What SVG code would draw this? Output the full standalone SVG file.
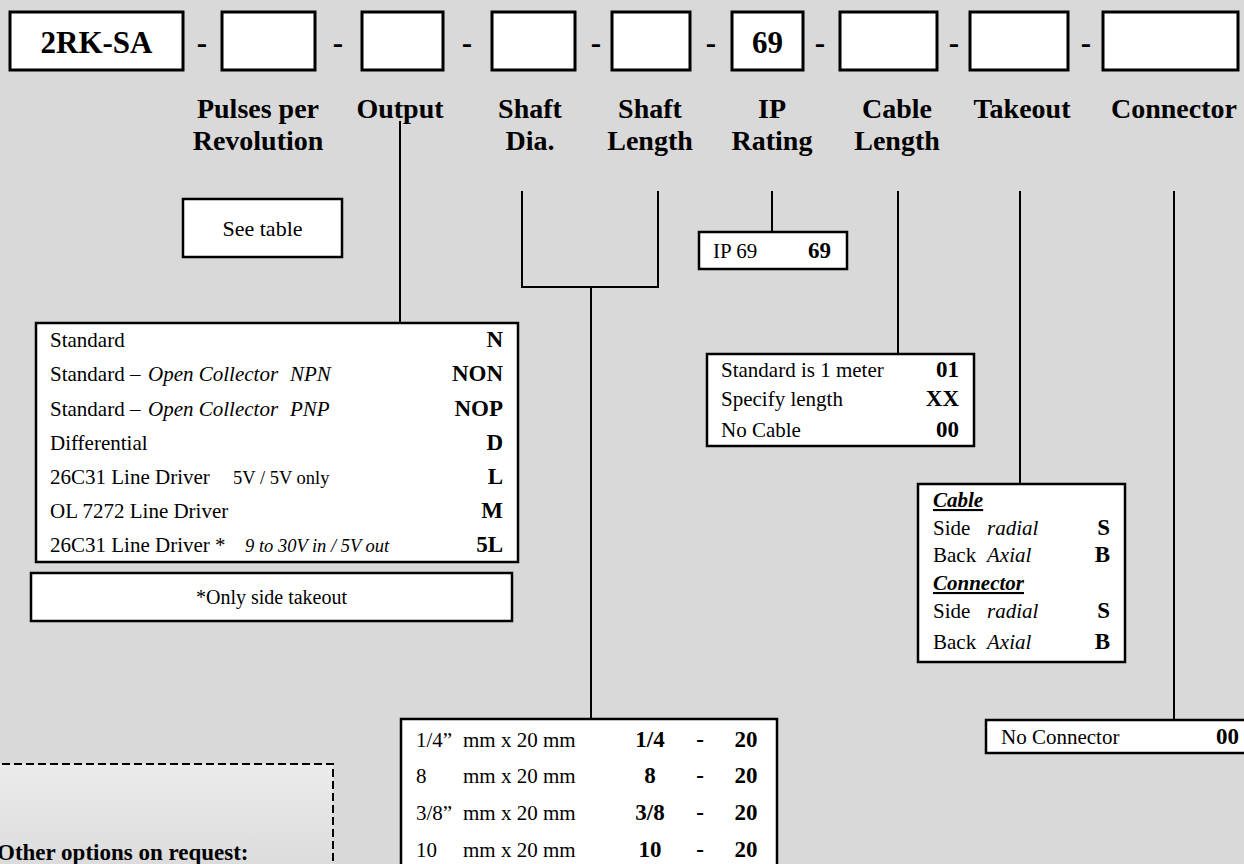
<svg xmlns="http://www.w3.org/2000/svg" width="1244" height="864" viewBox="0 0 1244 864">
<defs>
<linearGradient id="dashFill" x1="0" y1="0" x2="0" y2="1">
<stop offset="0" stop-color="#ececec"/>
<stop offset="1" stop-color="#d9d9d9"/>
</linearGradient>
</defs>
<style>
text{font-family:"Liberation Serif","Times New Roman",serif;fill:#000}
.top{fill:#fff;stroke:#000;stroke-width:3}
.tbl{fill:#fff;stroke:#000;stroke-width:2.5}
.lbl{font-size:28px;font-weight:bold;text-anchor:middle}
.big{font-size:31px;font-weight:bold;text-anchor:middle}
.t{font-size:21px}
.b{font-size:23px;font-weight:bold}
.r{text-anchor:end}
.m{text-anchor:middle}
.i{font-style:italic}
.sm{font-size:18.5px}
.con{fill:none;stroke:#000;stroke-width:2}
</style>
<rect x="0" y="0" width="1244" height="864" fill="#d9d9d9"/>

<g id="code-row">
<rect class="top" x="10" y="12" width="173" height="58"/>
<text class="big" x="96.5" y="53">2RK-SA</text>
<rect class="top" x="222" y="12" width="93" height="58"/>
<rect class="top" x="362" y="12" width="81" height="58"/>
<rect class="top" x="492" y="12" width="83" height="58"/>
<rect class="top" x="612" y="12" width="78" height="58"/>
<rect class="top" x="732" y="12" width="71" height="58"/>
<text class="big" x="767.5" y="53">69</text>
<rect class="top" x="840" y="12" width="97" height="58"/>
<rect class="top" x="970" y="12" width="98" height="58"/>
<rect class="top" x="1103" y="12" width="135" height="58"/>
<text class="big" x="202" y="53">-</text>
<text class="big" x="338" y="53">-</text>
<text class="big" x="467" y="53">-</text>
<text class="big" x="596" y="53">-</text>
<text class="big" x="711" y="53">-</text>
<text class="big" x="820" y="53">-</text>
<text class="big" x="954" y="53">-</text>
<text class="big" x="1086" y="53">-</text>
</g>

<g id="labels">
<text class="lbl" x="258" y="118">Pulses per</text>
<text class="lbl" x="258" y="150">Revolution</text>
<text class="lbl" x="400" y="118">Output</text>
<text class="lbl" x="530" y="118">Shaft</text>
<text class="lbl" x="530" y="150">Dia.</text>
<text class="lbl" x="650" y="118">Shaft</text>
<text class="lbl" x="650" y="150">Length</text>
<text class="lbl" x="772" y="118">IP</text>
<text class="lbl" x="772" y="150">Rating</text>
<text class="lbl" x="897" y="118">Cable</text>
<text class="lbl" x="897" y="150">Length</text>
<text class="lbl" x="1022" y="118">Takeout</text>
<text class="lbl" x="1174" y="118">Connector</text>
</g>

<g id="connectors">
<path class="con" d="M400 121V323"/>
<path class="con" d="M522 191V287H658V191M591 287V719"/>
<path class="con" d="M772 191V232"/>
<path class="con" d="M898 191V354"/>
<path class="con" d="M1020 191V484"/>
<path class="con" d="M1174 191V720"/>
</g>

<g id="see-table">
<rect class="tbl" x="183" y="199" width="159" height="58"/>
<text class="t m" x="262.5" y="236" style="font-size:22px">See table</text>
</g>

<g id="output-table">
<rect class="tbl" x="36" y="323" width="482" height="239"/>
<text class="t" x="50" y="347">Standard</text>
<text class="b r" x="503" y="347">N</text>
<text class="t" x="50" y="381">Standard – <tspan class="i" x="148">Open Collector</tspan><tspan class="i" x="290">NPN</tspan></text>
<text class="b r" x="503" y="381">NON</text>
<text class="t" x="50" y="416">Standard – <tspan class="i" x="148">Open Collector</tspan><tspan class="i" x="290">PNP</tspan></text>
<text class="b r" x="503" y="416">NOP</text>
<text class="t" x="50" y="450">Differential</text>
<text class="b r" x="503" y="450">D</text>
<text class="t" x="50" y="484">26C31 Line Driver<tspan class="sm" x="233">5V / 5V only</tspan></text>
<text class="b r" x="503" y="484">L</text>
<text class="t" x="50" y="518">OL 7272 Line Driver</text>
<text class="b r" x="503" y="518">M</text>
<text class="t" x="50" y="552">26C31 Line Driver *<tspan class="sm i" x="245">9 to 30V in / 5V out</tspan></text>
<text class="b r" x="503" y="552">5L</text>
</g>

<g id="side-note">
<rect class="tbl" x="31" y="573" width="481" height="48"/>
<text class="t m" x="271.5" y="604" style="font-size:20px">*Only side takeout</text>
</g>

<g id="ip-table">
<rect class="tbl" x="699" y="232" width="148" height="37"/>
<text class="t" x="713" y="258">IP 69</text>
<text class="b r" x="831" y="258">69</text>
</g>

<g id="cable-table">
<rect class="tbl" x="707" y="354" width="267" height="92"/>
<text class="t" x="721" y="377">Standard is 1 meter</text>
<text class="b r" x="959" y="377">01</text>
<text class="t" x="721" y="406">Specify length</text>
<text class="b r" x="959" y="406">XX</text>
<text class="t" x="721" y="437">No Cable</text>
<text class="b r" x="959" y="437">00</text>
</g>

<g id="takeout-table">
<rect class="tbl" x="918" y="484" width="207" height="178"/>
<text class="t i" x="933" y="507" font-weight="bold" text-decoration="underline">Cable</text>
<text class="t" x="933" y="535">Side<tspan class="i" x="987">radial</tspan></text>
<text class="b r" x="1110" y="535">S</text>
<text class="t" x="933" y="562">Back<tspan class="i" x="987">Axial</tspan></text>
<text class="b r" x="1110" y="562">B</text>
<text class="t i" x="933" y="590" font-weight="bold" text-decoration="underline">Connector</text>
<text class="t" x="933" y="618">Side<tspan class="i" x="987">radial</tspan></text>
<text class="b r" x="1110" y="618">S</text>
<text class="t" x="933" y="649">Back<tspan class="i" x="987">Axial</tspan></text>
<text class="b r" x="1110" y="649">B</text>
</g>

<g id="shaft-table">
<rect class="tbl" x="401" y="719" width="376" height="160"/>
<text class="t" x="416" y="747">1/4”</text>
<text class="t" x="463" y="747">mm x 20 mm</text>
<text class="b m" x="650" y="747">1/4</text>
<text class="b m" x="700" y="747">-</text>
<text class="b m" x="746" y="747">20</text>
<text class="t" x="416" y="783">8</text>
<text class="t" x="463" y="783">mm x 20 mm</text>
<text class="b m" x="650" y="783">8</text>
<text class="b m" x="700" y="783">-</text>
<text class="b m" x="746" y="783">20</text>
<text class="t" x="416" y="820">3/8”</text>
<text class="t" x="463" y="820">mm x 20 mm</text>
<text class="b m" x="650" y="820">3/8</text>
<text class="b m" x="700" y="820">-</text>
<text class="b m" x="746" y="820">20</text>
<text class="t" x="416" y="857">10</text>
<text class="t" x="463" y="857">mm x 20 mm</text>
<text class="b m" x="650" y="857">10</text>
<text class="b m" x="700" y="857">-</text>
<text class="b m" x="746" y="857">20</text>
</g>

<g id="connector-table">
<rect class="tbl" x="986" y="720" width="270" height="33"/>
<text class="t" x="1001" y="744">No Connector</text>
<text class="b r" x="1239" y="744">00</text>
</g>

<g id="other-options">
<rect x="-10" y="764" width="343" height="120" fill="url(#dashFill)" stroke="#000" stroke-width="2" stroke-dasharray="8 4"/>
<text x="-3" y="860" style="font-size:23px;font-weight:bold">Other options on request:</text>
</g>
</svg>
